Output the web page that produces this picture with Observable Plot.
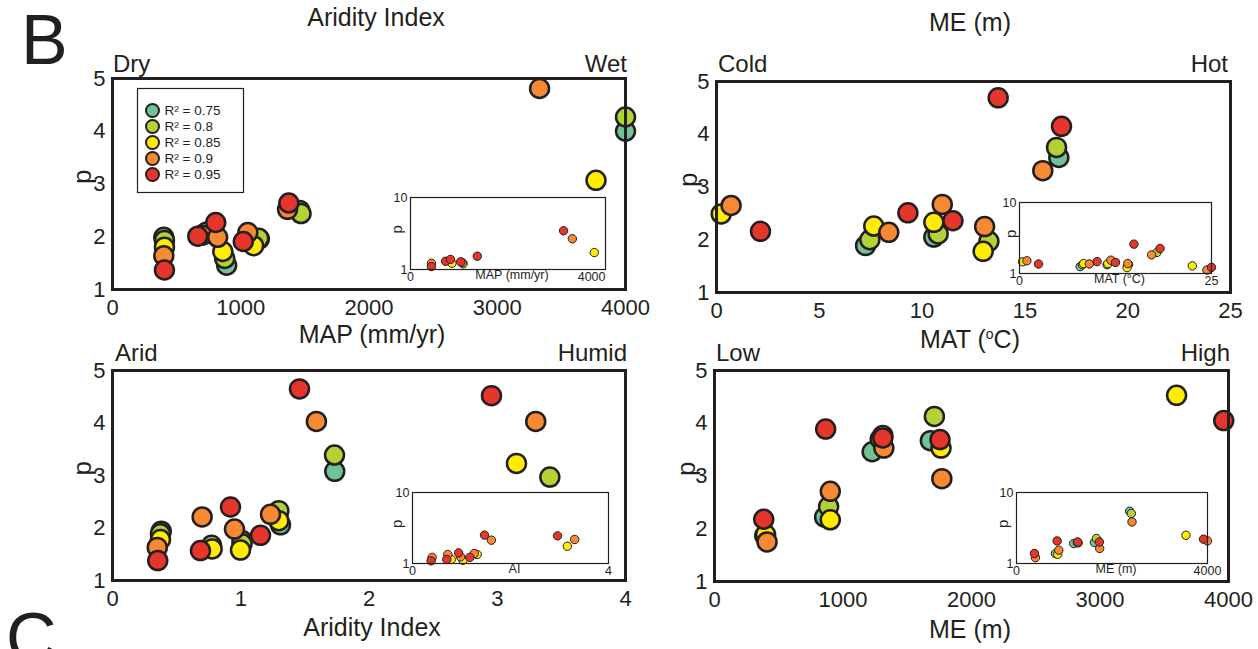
<!DOCTYPE html>
<html>
<head>
<meta charset="utf-8">
<script src="https://cdn.jsdelivr.net/npm/d3@7"></script>
<script src="https://cdn.jsdelivr.net/npm/@observablehq/plot@0.6"></script>
<style>
  body { margin: 0; background: #fff; }
  #fig { position: relative; width: 1258px; height: 649px; overflow: hidden; background: #fff; }
  #fig > svg { position: absolute; left: 0; top: 0; }
</style>
</head>
<body>
<div id="fig"></div>
<script>
// Goodness-of-fit classes and their colours
const rLevels = ["0.75", "0.8", "0.85", "0.9", "0.95"];
const rColors = ["#6fc397", "#b2d235", "#ffec00", "#f68a33", "#e6352a"];

// Mean annual precipitation (mm/yr) vs p; R index into rLevels
const mapX = [400, 405, 405, 400, 405, 720, 735, 700, 665, 890, 875, 860, 820, 805, 1145, 1140, 1100, 1055, 1020, 1460, 1470, 1365, 1375, 3330, 4000, 4000, 3770];
const mapP = [1.99, 1.93, 1.80, 1.64, 1.37, 2.06, 2.09, 2.03, 2.01, 1.46, 1.59, 1.72, 1.99, 2.27, 1.96, 1.97, 1.83, 2.08, 1.91, 2.50, 2.44, 2.52, 2.64, 4.81, 4.27, 4.00, 3.07];
const mapR = [0, 1, 2, 3, 4, 0, 1, 3, 4, 0, 1, 2, 3, 4, 0, 1, 2, 3, 4, 0, 1, 3, 4, 3, 1, 0, 2];
const mapInX = [430, 430, 720, 820, 850, 1030, 1060, 1080, 1370, 3140, 3320, 3770];
const mapInP = [1.22, 1.10, 1.30, 1.38, 1.22, 1.28, 1.25, 1.20, 1.53, 3.45, 2.67, 1.72];
const mapInR = [3, 4, 4, 4, 2, 4, 3, 2, 4, 4, 3, 2];

// Mean annual temperature (°C) vs p
const matX = [0.23, 0.71, 2.14, 7.25, 7.46, 7.65, 8.38, 9.31, 10.57, 10.78, 10.57, 10.98, 11.5, 13.25, 12.97, 13.04, 13.7, 16.65, 16.54, 15.87, 16.78];
const matP = [2.49, 2.65, 2.16, 1.89, 2.00, 2.26, 2.14, 2.51, 2.05, 2.11, 2.33, 2.67, 2.36, 1.97, 1.78, 2.25, 4.69, 3.56, 3.75, 3.31, 4.15];
const matR = [2, 3, 4, 0, 1, 2, 3, 4, 0, 1, 2, 3, 4, 1, 2, 3, 4, 0, 1, 3, 4];
const matInX = [0.39, 0.96, 2.48, 7.9, 8.2, 8.35, 9.1, 10.1, 11.4, 11.5, 11.9, 12.5, 14.2, 14.0, 14.1, 14.9, 17.9, 17.2, 18.3, 22.5, 24.4, 25];
const matInP = [1.46, 1.51, 1.36, 1.25, 1.33, 1.38, 1.36, 1.47, 1.33, 1.38, 1.54, 1.43, 1.33, 1.21, 1.38, 2.59, 1.98, 1.83, 2.25, 1.28, 1.12, 1.22];
const matInR = [2, 3, 4, 0, 1, 2, 3, 4, 0, 2, 3, 4, 1, 2, 3, 4, 1, 3, 4, 2, 3, 4];

// Aridity index vs p
const aiX = [0.38, 0.374, 0.374, 0.349, 0.353, 0.772, 0.777, 0.699, 0.686, 1.01, 1.01, 0.998, 0.951, 0.92, 1.31, 1.297, 1.297, 1.232, 1.154, 1.733, 1.731, 1.59, 1.458, 3.41, 3.15, 3.30, 2.955];
const aiP = [1.94, 1.89, 1.78, 1.63, 1.38, 1.67, 1.60, 2.21, 1.57, 1.76, 1.70, 1.58, 1.98, 2.40, 2.06, 2.33, 2.14, 2.26, 1.86, 3.08, 3.39, 4.03, 4.65, 2.97, 3.23, 4.03, 4.52];
const aiR = [0, 1, 2, 3, 4, 1, 2, 3, 4, 0, 1, 2, 3, 4, 0, 1, 2, 3, 4, 0, 1, 3, 4, 1, 2, 3, 4];
const aiInX = [0.40, 0.38, 0.72, 0.79, 0.70, 0.94, 0.98, 1.03, 1.17, 1.26, 1.32, 1.47, 1.61, 2.96, 3.16, 3.31];
const aiInP = [1.22, 1.09, 1.34, 1.14, 1.14, 1.41, 1.24, 1.11, 1.22, 1.38, 1.34, 2.51, 2.13, 2.45, 1.75, 2.18];
const aiInR = [3, 4, 3, 2, 4, 4, 3, 2, 4, 3, 2, 4, 3, 4, 2, 3];

// Mean elevation (m) vs p
const meX = [391, 398, 409, 383, 857, 888, 901, 901, 865, 1227, 1290, 1310, 1318, 1310, 1680, 1711, 1763, 1769, 1755, 3596, 3963];
const meP = [1.87, 1.89, 1.75, 2.18, 2.22, 2.42, 2.17, 2.71, 3.89, 3.46, 3.70, 3.77, 3.53, 3.72, 3.67, 4.13, 3.53, 2.95, 3.69, 4.53, 4.05];
const meR = [0, 2, 3, 4, 0, 1, 2, 3, 4, 0, 1, 2, 3, 4, 0, 1, 2, 3, 4, 2, 4];
const meInX = [376, 397, 815, 864, 885, 851, 1198, 1276, 1290, 1282, 1631, 1673, 1742, 1735, 2369, 2405, 2419, 3549, 3917, 4000];
const meInP = [1.38, 1.21, 1.38, 1.35, 1.54, 2.08, 1.91, 1.98, 1.95, 2.01, 1.98, 2.25, 1.63, 2.01, 5.45, 5.06, 3.85, 2.50, 2.20, 2.08];
const meInR = [4, 3, 0, 2, 3, 4, 0, 1, 3, 4, 0, 1, 3, 4, 0, 1, 3, 2, 4, 3];

// Tick labels
const pTicks = [1, 2, 3, 4, 5];
const mapTicks = [0, 1000, 2000, 3000, 4000];
const matTicks = [0, 5, 10, 15, 20, 25];
const aiTicks = [0, 1, 2, 3, 4];
const meTicks = [0, 1000, 2000, 3000, 4000];

const W = 1258, H = 649;
const ink = "#231f20";
const font = "'Liberation Sans', Arial, Helvetica, sans-serif";
const fig = document.getElementById("fig");

function rows(xs, ps, rs) {
  return xs.map((x, i) => ({x, p: ps[i], k: rs[i], r: rLevels[rs[i]]}))
    .sort((a, b) => a.k - b.k);
}

// One scatter panel; its frame is placed at [x0,x1]×[y0,y1] in page pixels
function panel(o) {
  const marks = [];
  if (o.inset) marks.push(Plot.frame({fill: "white", stroke: "none"}));
  const xt = o.xTicks;
  if (o.lastEnd) {
    marks.push(Plot.axisX(xt.slice(0, -1), {tickSize: 0, tickPadding: o.xPad, tickFormat: "d", label: null}));
    marks.push(Plot.axisX(xt.slice(-1), {tickSize: 0, tickPadding: o.xPad, tickFormat: "d", label: null, textAnchor: "end"}));
  } else {
    marks.push(Plot.axisX(xt, {tickSize: 0, tickPadding: o.xPad, tickFormat: "d", label: null}));
  }
  marks.push(Plot.axisY(o.yTicks, {tickSize: 0, tickPadding: o.yPad, tickFormat: "d", label: null}));
  marks.push(Plot.dot(rows(o.xs, o.ps, o.rs), {
    x: "x", y: "p", r: o.r, fill: "r", stroke: ink, strokeWidth: o.sw
  }));
  marks.push(Plot.frame({stroke: ink, strokeWidth: o.fw}));
  if (o.inset) {
    marks.push(Plot.text([o.xLabel], {frameAnchor: "bottom", dy: o.xPad + 6, fill: ink, dx: 4}));
    marks.push(Plot.text(["p"], {frameAnchor: "left", dx: -o.pOff, rotate: -90, fill: ink, fontSize: 15}));
  } else {
    marks.push(Plot.text(["p"], {frameAnchor: "left", dx: -o.pOff, rotate: -90, fill: ink, fontSize: 26}));
  }
  const svg = Plot.plot({
    width: W, height: H,
    marginLeft: o.x0, marginRight: W - o.x1, marginTop: o.y0, marginBottom: H - o.y1,
    style: {background: "transparent", overflow: "visible", fontFamily: font, fontSize: o.fs + "px", color: ink},
    x: {domain: o.xDomain},
    y: {domain: o.yDomain, type: o.inset ? "log" : "linear"},
    color: {domain: rLevels, range: rColors},
    marks
  });
  fig.appendChild(svg);
}

const mainStyle = {r: 9.5, sw: 2.5, fw: 3, fs: 22, xPad: 10, yPad: 7, pOff: 30, yTicks: pTicks, yDomain: [1, 5]};
const insetStyle = {inset: true, r: 4.2, sw: 1, fw: 1.2, fs: 12.5, xPad: 3, yPad: 3, pOff: 13, yTicks: [1, 10], yDomain: [1, 10]};

panel({...mainStyle, x0: 112, x1: 625, y0: 78, y1: 289, xDomain: [0, 4000], xTicks: mapTicks, xs: mapX, ps: mapP, rs: mapR});
panel({...insetStyle, x0: 410, x1: 605, y0: 197, y1: 269, xDomain: [0, 4000], xTicks: [0, 4000], lastEnd: true, xs: mapInX, ps: mapInP, rs: mapInR, xLabel: "MAP (mm/yr)"});

panel({...mainStyle, x0: 716, x1: 1230, y0: 81, y1: 292, xDomain: [0, 25], xTicks: matTicks, xs: matX, ps: matP, rs: matR, pOff: 28});
panel({...insetStyle, x0: 1019, x1: 1211, y0: 202, y1: 273, xDomain: [0, 25], xTicks: [0, 25], xs: matInX, ps: matInP, rs: matInR, xLabel: "MAT (°C)", pOff: 8});

panel({...mainStyle, x0: 112, x1: 625, y0: 370, y1: 580, xDomain: [0, 4], xTicks: aiTicks, xs: aiX, ps: aiP, rs: aiR});
panel({...insetStyle, x0: 412, x1: 608, y0: 492, y1: 563, xDomain: [0, 4], xTicks: [0, 4], xs: aiInX, ps: aiInP, rs: aiInR, xLabel: "AI", pOff: 15});

panel({...mainStyle, x0: 714, x1: 1228, y0: 370, y1: 581, xDomain: [0, 4000], xTicks: meTicks, xs: meX, ps: meP, rs: meR, pOff: 28});
panel({...insetStyle, x0: 1016, x1: 1207, y0: 492, y1: 563, xDomain: [0, 4000], xTicks: [0, 4000], xs: meInX, ps: meInP, rs: meInR, xLabel: "ME (m)"});

// Legend box for the R² classes
const legend = Plot.plot({
  width: 106, height: 104, margin: 0,
  style: {background: "white", overflow: "visible", fontFamily: font, fontSize: "13.5px", color: ink, position: "absolute", left: "137px", top: "88px"},
  x: {axis: null}, y: {axis: null, type: "point", domain: rLevels, range: [13, 94]},
  color: {domain: rLevels, range: rColors},
  marks: [
    Plot.frame({stroke: ink, strokeWidth: 1.2}),
    Plot.dot(rLevels, {y: d => d, frameAnchor: "left", dx: 15, r: 6.5, fill: d => d, stroke: ink, strokeWidth: 2}),
    Plot.text(rLevels, {y: d => d, frameAnchor: "left", dx: 27, textAnchor: "start", text: d => `R² = ${d}`, fill: ink})
  ]
});
fig.appendChild(legend);

// Titles, axis names and end-member labels
const notes = [
  {t: "B", x: 21, y: 64, size: 70, a: "start"},
  {t: "Aridity Index", x: 376, y: 26, size: 25, a: "middle"},
  {t: "ME (m)", x: 970, y: 31, size: 25, a: "middle"},
  {t: "Dry", x: 113, y: 72, size: 24, a: "start"},
  {t: "Wet", x: 627, y: 72, size: 24, a: "end"},
  {t: "Cold", x: 718, y: 72, size: 24, a: "start"},
  {t: "Hot", x: 1228, y: 72, size: 24, a: "end"},
  {t: "MAP (mm/yr)", x: 372, y: 343, size: 25, a: "middle"},
  {t: "Arid", x: 115, y: 361, size: 24, a: "start"},
  {t: "Humid", x: 627, y: 361, size: 24, a: "end"},
  {t: "Low", x: 716, y: 361, size: 24, a: "start"},
  {t: "High", x: 1230, y: 361, size: 24, a: "end"},
  {t: "Aridity Index", x: 372, y: 636, size: 25, a: "middle"},
  {t: "ME (m)", x: 970, y: 638, size: 25, a: "middle"},
  {t: "C", x: 6, y: 662, size: 70, a: "start"}
];
const ann = d3.create("svg").attr("width", W).attr("height", H)
  .style("overflow", "hidden").attr("font-family", font).attr("fill", ink);
ann.selectAll("text.n").data(notes).join("text").attr("class", "n")
  .attr("x", d => d.x).attr("y", d => d.y).attr("font-size", d => d.size)
  .attr("text-anchor", d => d.a).text(d => d.t);
// MAT (ºC) with a raised small o
const mat = ann.append("text").attr("x", 970).attr("y", 348).attr("font-size", 25).attr("text-anchor", "middle");
mat.append("tspan").text("MAT (");
mat.append("tspan").attr("font-size", 14).attr("dy", -9).text("o");
mat.append("tspan").attr("dy", 9).text("C)");
fig.appendChild(ann.node());
</script>
</body>
</html>
